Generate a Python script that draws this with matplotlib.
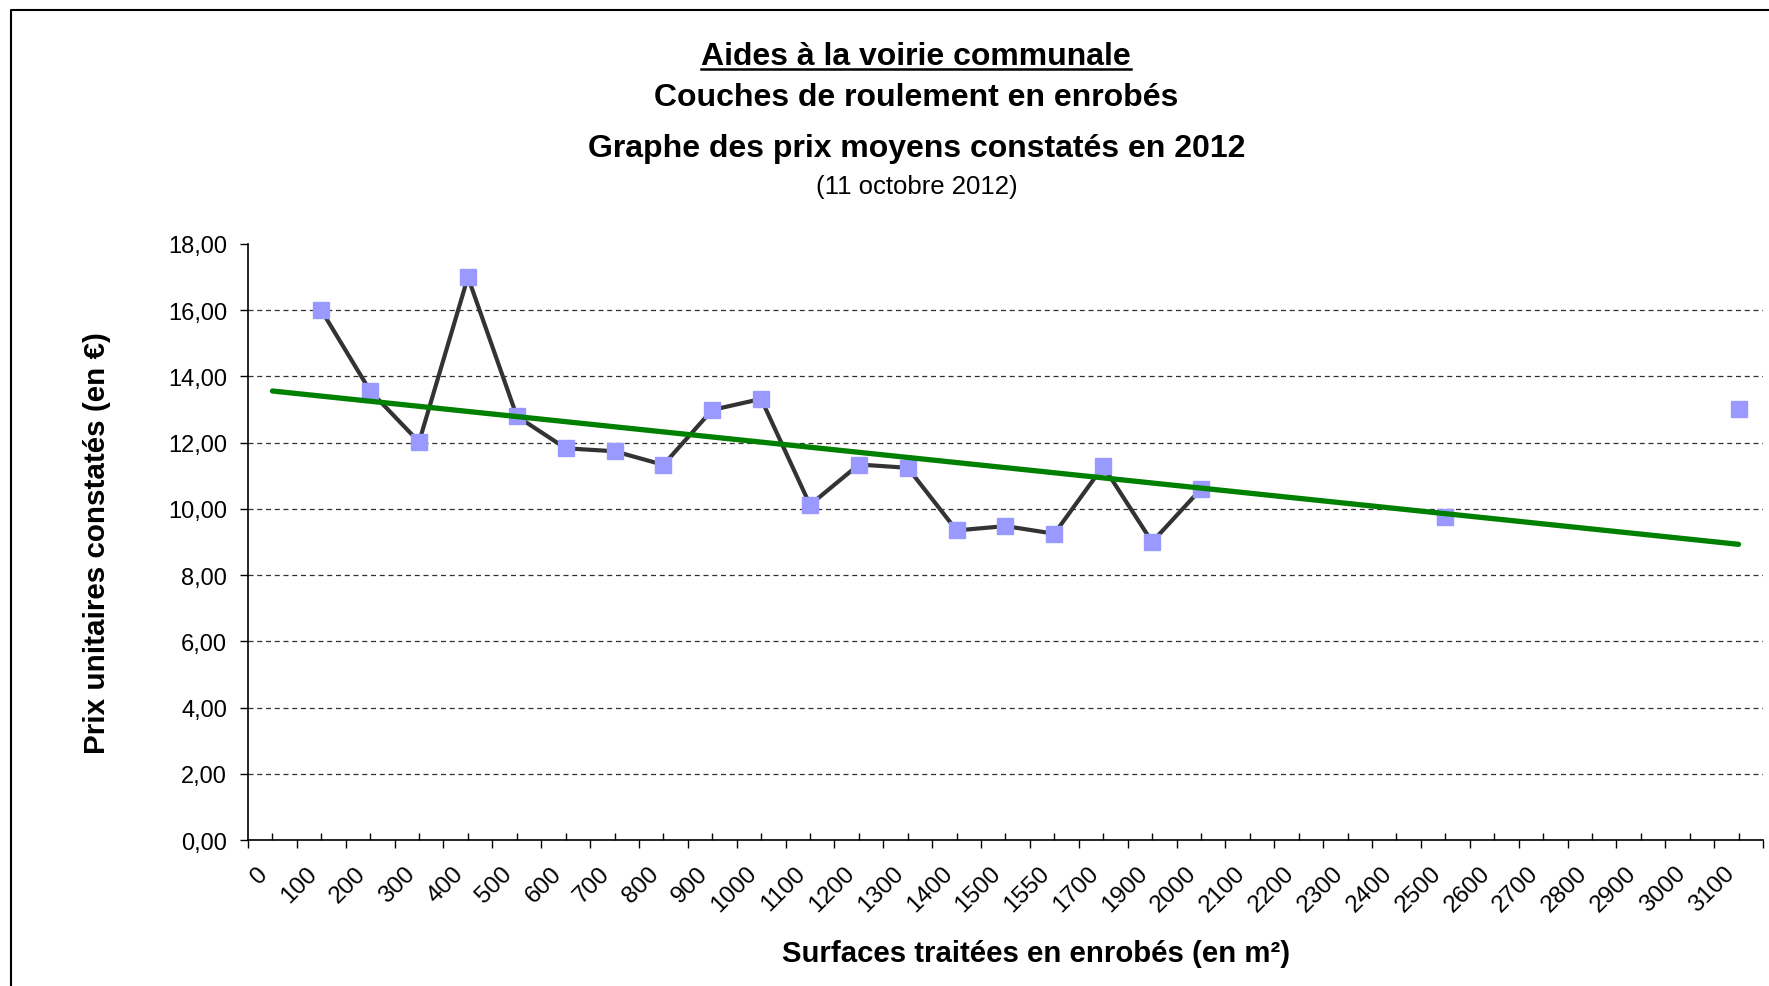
import numpy as np
import matplotlib
matplotlib.use('Agg')
import matplotlib.pyplot as plt
from matplotlib.ticker import FuncFormatter
from matplotlib.lines import Line2D

plt.rcParams['font.family'] = ['Liberation Sans', 'DejaVu Sans']

# surfaces (m²) used as categories on the x axis
surfaces = ['0', '100', '200', '300', '400', '500', '600', '700', '800', '900',
            '1000', '1100', '1200', '1300', '1400', '1500', '1550', '1700', '1900', '2000',
            '2100', '2200', '2300', '2400', '2500', '2600', '2700', '2800', '2900', '3000', '3100']
# average price per category (nan = no value)
prix = [np.nan, 16.00, 13.56, 12.02, 17.00, 12.80, 11.83, 11.74, 11.33, 12.99,
        13.32, 10.12, 11.34, 11.24, 9.35, 9.48, 9.25, 11.29, 9.00, 10.60,
        np.nan, np.nan, np.nan, np.nan, 9.76, np.nan, np.nan, np.nan, np.nan, np.nan, 13.01]
# linear trend, read at first and last category
trend_idx = [0, 30]
trend_val = [13.56, 8.93]

yticks = np.arange(0, 19, 2)

fig = plt.figure(figsize=(17.69, 9.87), dpi=100)
ax = fig.add_axes([0.1402, 0.1479, 0.8564, 0.6039])

x = np.arange(len(surfaces))
ax.plot(x, prix, color='#333333', lw=3, marker='s', markersize=11,
        markerfacecolor='#9999ff', markeredgecolor='#9999ff', zorder=3)
ax.plot(trend_idx, trend_val, color='#008000', lw=3.8, zorder=4, solid_capstyle='round')

ax.set_xlim(-0.5, len(surfaces) - 0.5)
ax.set_ylim(0, 18)
ax.set_yticks(yticks)
ax.yaxis.set_major_formatter(FuncFormatter(lambda v, p: f"{v:.2f}".replace('.', ',')))
ax.tick_params(axis='y', direction='out', length=6, width=1, labelsize=17, pad=9)

# boundaries: major ticks out, centers: minor ticks in with labels
ax.set_xticks(np.arange(len(surfaces) + 1) - 0.5)
ax.set_xticklabels([])
ax.set_xticks(x, surfaces, minor=True)
ax.tick_params(axis='x', which='major', direction='out', length=6, width=1)
ax.tick_params(axis='x', which='minor', direction='in', length=5, width=1, labelsize=17.5, pad=27)
for lab in ax.get_xticklabels(minor=True):
    lab.set_rotation(45)
    lab.set_ha('right')
    lab.set_va('bottom')
    lab.set_rotation_mode('anchor')

ax.yaxis.grid(True, linestyle=(0, (4, 3)), color='#303030', lw=0.9)
ax.get_ygridlines()[-1].set_visible(False)
for s in ['top', 'right']:
    ax.spines[s].set_visible(False)
for s in ['left', 'bottom']:
    ax.spines[s].set_linewidth(1.2)

t1 = fig.text(0.518, 0.942, 'Aides à la voirie communale', ha='center', va='center',
              fontsize=23, fontweight='bold')
fig.text(0.518, 0.901, 'Couches de roulement en enrobés', ha='center', va='center',
         fontsize=23, fontweight='bold')
fig.text(0.518, 0.849, 'Graphe des prix moyens constatés en 2012', ha='center', va='center',
         fontsize=23, fontweight='bold')
fig.text(0.518, 0.811, '(11 octobre 2012)', ha='center', va='center', fontsize=18.5)

fig.text(0.0550, 0.4498, 'Prix unitaires constatés (en €)', rotation=90, ha='center',
         va='center', fontsize=21.3, fontweight='bold')
fig.text(0.5856, 0.0334, 'Surfaces traitées en enrobés (en m²)', ha='center', va='center',
         fontsize=21.2, fontweight='bold')

# underline first title line
fig.canvas.draw()
bb = t1.get_window_extent().transformed(fig.transFigure.inverted())
fig.add_artist(Line2D([bb.x0, bb.x1], [bb.y0 + 0.002, bb.y0 + 0.002], color='black', lw=1.8,
                      transform=fig.transFigure))

# chart area border (left and top only visible)
fig.add_artist(Line2D([0.0062, 0.0062, 1.0], [0.0, 0.9889, 0.9889], color='black', lw=1.5,
                      transform=fig.transFigure))

fig.savefig('out.png', dpi=100)
